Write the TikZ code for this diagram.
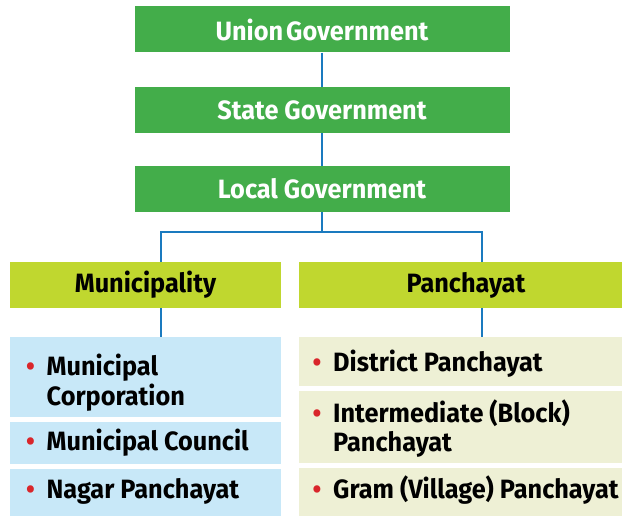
\documentclass[tikz,border=0pt]{standalone}
\usepackage{fontspec}
\setmainfont{Fira Sans}[FakeStretch=0.955]
\definecolor{govgreen}{HTML}{43AD4A}
\definecolor{lime}{HTML}{C0D72F}
\definecolor{lightblue}{HTML}{C8E8F8}
\definecolor{cream}{HTML}{EEF0D5}
\definecolor{linkblue}{HTML}{1A7ABF}
\definecolor{bulred}{HTML}{D9262B}
\newcommand{\bul}{\makebox[20.5pt][l]{\textcolor{bulred}{\textbullet}}}
\begin{document}
\begin{tikzpicture}[x=1pt,y=-1pt,
  every node/.style={font=\fontsize{26.5}{29}\selectfont\bfseries, inner sep=0pt},
  gov/.style={fill=govgreen, text=white, minimum width=375pt, minimum height=46pt},
  cat/.style={fill=lime, text=black, minimum height=46pt},
  mbox/.style={fill=lightblue, minimum width=271pt},
  pbox/.style={fill=cream, minimum width=323pt},
  itemtext/.style={text=black, anchor=base west},
  link/.style={draw=linkblue, line width=1.6pt}]
\useasboundingbox (0,0) rectangle (622,516);
\node[gov] (union) at (322,29.5) {Union\hspace{3pt}Government};
\node[gov] (state) at (322,110) {State Government};
\node[gov] (local) at (322,189) {Local Government};
\node[cat, minimum width=271pt] (muni) at (145.5,285) {Municipality};
\node[cat, minimum width=323pt] (panch) at (460.5,285) {\hspace*{11pt}Panchayat};
% boxes
\node[mbox, minimum height=80pt] (m1) at (145.5,377) {};
\node[mbox, minimum height=42pt] (m2) at (145.5,443) {};
\node[mbox, minimum height=47pt] (m3) at (145.5,492.5) {};
\node[pbox, minimum height=49pt] (p1) at (460.5,361.5) {};
\node[pbox, minimum height=72pt] (p2) at (460.5,427) {};
\node[pbox, minimum height=48pt] (p3) at (460.5,492) {};
% texts
\node[itemtext] (m1t) at (26,375) {\bul\begin{tabular}[t]{@{}l@{}}Municipal\\Corporation\end{tabular}};
\node[itemtext] (m2t) at (26,450) {\bul Municipal Council};
\node[itemtext] (m3t) at (26,498) {\bul Nagar Panchayat};
\node[itemtext] (p1t) at (312.5,371) {\bul District Panchayat};
\node[itemtext] (p2t) at (312.5,422) {\bul\begin{tabular}[t]{@{}l@{}}Intermediate (Block)\\Panchayat\end{tabular}};
\node[itemtext] (p3t) at (312.5,498) {\bul Gram (Village) Panchayat};
% connectors
\coordinate (split) at (322,232);
\coordinate (mtop) at (161,262);
\coordinate (ptop) at (482,262);
\coordinate (mbot) at (161,308);
\coordinate (pbot) at (482,308);
\coordinate (m1top) at (161,337);
\coordinate (p1top) at (482,337);
\draw[link] (union.south) -- (state.north);
\draw[link] (state.south) -- (local.north);
\draw[link] (local.south) -- (split);
\draw[link] (split) -| (mtop);
\draw[link] (split) -| (ptop);
\draw[link] (mbot) -- (m1top);
\draw[link] (pbot) -- (p1top);
\end{tikzpicture}
\end{document}
